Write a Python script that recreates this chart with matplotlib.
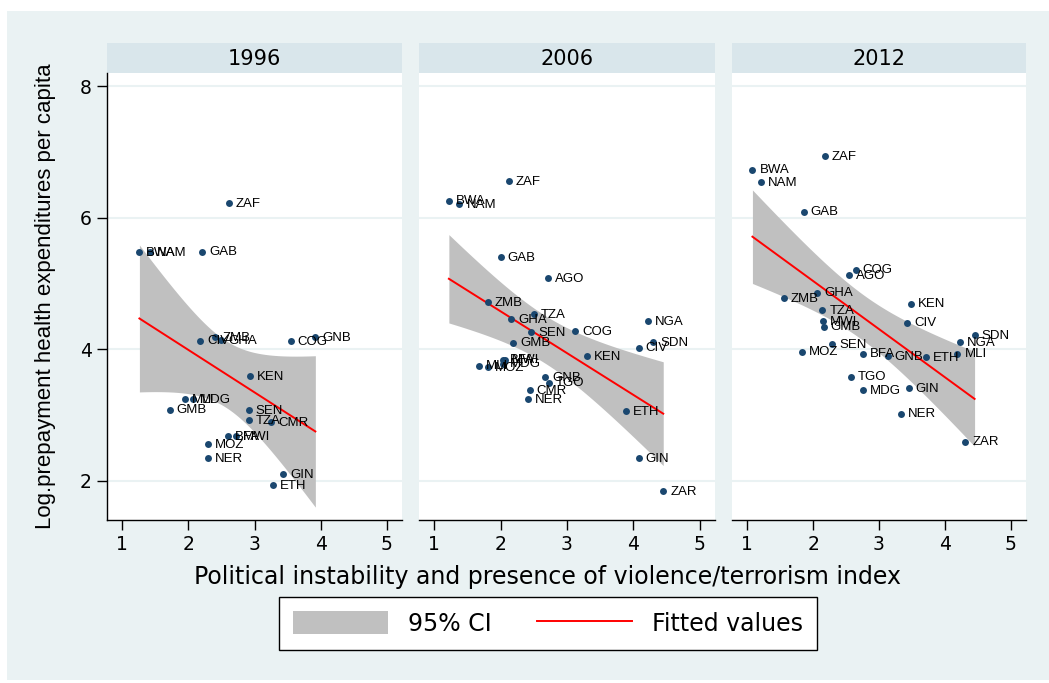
import numpy as np
import matplotlib
matplotlib.use("Agg")
import matplotlib.pyplot as plt
from matplotlib.patches import Patch, Rectangle
from matplotlib.lines import Line2D

plt.rcParams['font.family'] = ['Liberation Sans', 'DejaVu Sans']

# ---- data ----
years = ["1996", "2006", "2012"]

codes_1996 = ["ZAF", "BWA", "NAM", "GAB", "CIV", "ZMB", "GHA", "COG", "GNB", "KEN", "MLI",
              "MDG", "GMB", "SEN", "TZA", "CMR", "BFA", "MWI", "MOZ", "NER", "GIN", "ETH"]
pol_1996 = [2.61, 1.26, 1.42, 2.21, 2.18, 2.41, 2.50, 3.55, 3.92, 2.93, 1.95,
            2.07, 1.72, 2.91, 2.91, 3.25, 2.60, 2.72, 2.30, 2.30, 3.43, 3.28]
hexp_1996 = [6.22, 5.47, 5.47, 5.48, 4.13, 4.18, 4.14, 4.12, 4.18, 3.59, 3.24,
             3.24, 3.08, 3.07, 2.92, 2.89, 2.68, 2.68, 2.55, 2.34, 2.10, 1.93]

codes_2006 = ["ZAF", "BWA", "NAM", "GAB", "AGO", "ZMB", "TZA", "GHA", "SEN", "COG", "GMB",
              "NGA", "SDN", "CIV", "KEN", "BFA", "MWI", "MLI", "MOZ", "MDG", "GNB", "TGO",
              "CMR", "NER", "ETH", "GIN", "ZAR"]
pol_2006 = [2.12, 1.22, 1.38, 2.00, 2.72, 1.81, 2.50, 2.16, 2.46, 3.12, 2.19,
            4.22, 4.30, 4.08, 3.30, 2.03, 2.07, 1.68, 1.81, 2.04, 2.67, 2.73,
            2.44, 2.41, 3.89, 4.08, 4.45]
hexp_2006 = [6.56, 6.26, 6.20, 5.40, 5.08, 4.71, 4.53, 4.46, 4.26, 4.27, 4.10,
             4.43, 4.11, 4.02, 3.89, 3.84, 3.84, 3.75, 3.73, 3.78, 3.57, 3.49,
             3.38, 3.24, 3.06, 2.34, 1.84]

codes_2012 = ["ZAF", "BWA", "NAM", "GAB", "COG", "AGO", "GHA", "ZMB", "KEN", "TZA", "CIV",
              "MWI", "GMB", "SDN", "NGA", "MLI", "SEN", "MOZ", "BFA", "GNB", "ETH", "TGO",
              "MDG", "GIN", "NER", "ZAR"]
pol_2012 = [2.18, 1.08, 1.21, 1.86, 2.65, 2.54, 2.06, 1.56, 3.48, 2.14, 3.43,
            2.15, 2.16, 4.45, 4.23, 4.19, 2.29, 1.83, 2.75, 3.13, 3.71, 2.57,
            2.75, 3.45, 3.33, 4.31]
hexp_2012 = [6.94, 6.73, 6.54, 6.09, 5.21, 5.13, 4.86, 4.77, 4.69, 4.59, 4.40,
             4.42, 4.34, 4.21, 4.11, 3.93, 4.07, 3.96, 3.93, 3.89, 3.88, 3.58,
             3.38, 3.41, 3.02, 2.59]

panels = [(codes_1996, pol_1996, hexp_1996),
          (codes_2006, pol_2006, hexp_2006),
          (codes_2012, pol_2012, hexp_2012)]

x_ticks = [1, 2, 3, 4, 5]
y_ticks = [2, 4, 6, 8]

W, H = 1049, 683
navy = "#1A476F"
bg = "#EAF2F3"
strip_col = "#D9E6EB"
# the reference text is wide, DejaVu gets closer than Arial-like fonts
wide = ['DejaVu Sans']


def t975(df):
    # Cornish-Fisher expansion of the t quantile (no scipy here)
    z = 1.959964
    return (z + (z**3 + z) / (4 * df)
            + (5 * z**5 + 16 * z**3 + 3 * z) / (96 * df**2)
            + (3 * z**7 + 19 * z**5 + 17 * z**3 - 15 * z) / (384 * df**3))


def lfitci(x, y):
    # linear fit with 95% CI of the mean prediction (like stata lfitci)
    x = np.asarray(x)
    y = np.asarray(y)
    n = len(x)
    b, a = np.polyfit(x, y, 1)
    resid = y - (a + b * x)
    s = np.sqrt(np.sum(resid**2) / (n - 2))
    sxx = np.sum((x - x.mean())**2)
    xs = np.linspace(x.min(), x.max(), 200)
    fit = a + b * xs
    se = s * np.sqrt(1.0 / n + (xs - x.mean())**2 / sxx)
    t = t975(n - 2)
    return xs, fit, fit - t * se, fit + t * se


def px_box(x0, y0, x1, y1):
    return [x0 / W, 1 - y1 / H, (x1 - x0) / W, (y1 - y0) / H]


fig = plt.figure(figsize=(W / 100, H / 100), dpi=100, facecolor="white")
fig.patches.append(Rectangle((7 / W, 0.005), 1, 1 - 11 / H - 0.005,
                             transform=fig.transFigure, facecolor=bg,
                             edgecolor="none", zorder=-10))

lefts = [(107, 402), (419, 715), (732, 1026)]

for i, (codes, px, py) in enumerate(panels):
    x0, x1 = lefts[i]

    # strip with the year
    sax = fig.add_axes(px_box(x0, 43, x1, 73))
    sax.set_facecolor(strip_col)
    sax.set_xticks([])
    sax.set_yticks([])
    for sp in sax.spines.values():
        sp.set_visible(False)
    sax.text(0.5, 0.47, years[i], ha="center", va="center", fontsize=15,
             family=wide, transform=sax.transAxes)

    ax = fig.add_axes(px_box(x0, 73, x1, 520))
    ax.set_facecolor("white")
    ax.set_xlim(0.77, 5.23)
    ax.set_ylim(1.4, 8.2)

    for yt in y_ticks:
        ax.axhline(yt, color=bg, lw=1.5, zorder=0)

    xs, fit, lo, hi = lfitci(px, py)
    ax.fill_between(xs, lo, hi, color="#C0C0C0", lw=0, zorder=1)
    ax.plot(xs, fit, color="red", lw=1.4, zorder=2)

    ax.scatter(px, py, s=25, color=navy, zorder=3, linewidths=0)
    for c, xv, yv in zip(codes, px, py):
        ax.annotate(c, (xv, yv), xytext=(5, -0.5), textcoords="offset points",
                    ha="left", va="center", fontsize=9.5, zorder=4)

    ax.set_xticks(x_ticks)
    ax.tick_params(axis="x", direction="out", length=7, width=1, labelsize=13.5,
                   pad=4)
    for lab in ax.get_xticklabels():
        lab.set_family(wide)
    ax.spines["top"].set_visible(False)
    ax.spines["right"].set_visible(False)
    ax.spines["bottom"].set_linewidth(1)
    if i == 0:
        ax.set_yticks(y_ticks)
        ax.tick_params(axis="y", direction="out", length=7, width=1,
                       labelsize=13.5, pad=4)
        for lab in ax.get_yticklabels():
            lab.set_family(wide)
        ax.spines["left"].set_linewidth(1)
    else:
        ax.set_yticks([])
        ax.spines["left"].set_visible(False)

fig.text(548 / W, 1 - 577 / H,
         "Political instability and presence of violence/terrorism index",
         ha="center", va="center", fontsize=17, family=wide)
fig.text(46 / W, 1 - 296 / H, "Log.prepayment health expenditures per capita",
         ha="center", va="center", rotation=90, fontsize=16)

handles = [Patch(facecolor="#C0C0C0", edgecolor="none", label="95% CI"),
           Line2D([0], [0], color="red", lw=1.4, label="Fitted values")]
leg = fig.legend(handles=handles, loc="center", bbox_to_anchor=(548 / W, 1 - 623.5 / H),
                 ncol=2, prop={'family': wide, 'size': 17}, frameon=True,
                 fancybox=False, edgecolor="black", facecolor="white",
                 framealpha=1, handlelength=4.0, handleheight=1.1,
                 handletextpad=0.85, columnspacing=1.95, borderpad=0.6)
leg.get_frame().set_linewidth(1)

fig.savefig("out.png", dpi=100, facecolor=fig.get_facecolor())
